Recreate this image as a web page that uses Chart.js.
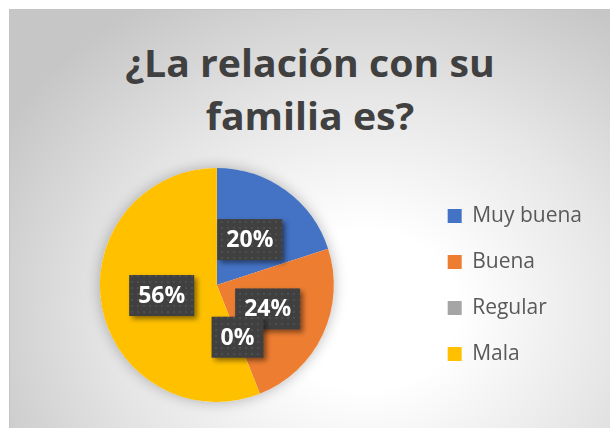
<!DOCTYPE html>
<html>
<head>
<meta charset="utf-8">
<script src="https://cdn.jsdelivr.net/npm/chart.js@4/dist/chart.umd.min.js"></script>
<style>
  html, body { margin: 0; padding: 0; background: #ffffff; }
  body { width: 610px; height: 428px; position: relative; overflow: hidden; }
  .box {
    position: absolute; left: 9px; top: 9px; width: 601px; height: 419px;
    border-left: 1px solid #c4c4c4; border-top: 1px solid #c4c4c4;
    background: radial-gradient(ellipse 420px 360px at 355px 300px, #ffffff 0%, #ffffff 22%, #e6e6e6 60%, #c6c6c6 100%);
  }
  .title {
    position: absolute; left: 10px; top: 36px; width: 600px; text-align: center;
    font-family: 'Open Sans', sans-serif; font-weight: 700; font-size: 37px;
    line-height: 53px; color: #404040; transform: scaleX(1.06);
  }
  canvas { position: absolute; left: 9px; top: 9px; }
</style>
</head>
<body>
<div class="box"></div>
<div class="title">¿La relación con su<br>familia es?</div>
<canvas id="chartFamilia" width="601" height="419"></canvas>
<script>
// ── Datos ────────────────────────────────────────────────
const categorias = ['Muy buena', 'Buena', 'Regular', 'Mala'];
const porcentajes = [20, 24, 0, 56];
const colores = ['#4472C4', '#ED7D31', '#A5A5A5', '#FFC000'];

// patrón oscuro con puntos para las etiquetas
function makePattern(ctx) {
  const p = document.createElement('canvas');
  p.width = 6; p.height = 6;
  const c = p.getContext('2d');
  c.fillStyle = '#404040';
  c.fillRect(0, 0, 6, 6);
  c.fillStyle = '#4e4e4e';
  c.fillRect(2, 2, 2, 2);
  return ctx.createPattern(p, 'repeat');
}

// sombra suave bajo la tarta
const pieShadow = {
  id: 'pieShadow',
  beforeDatasetsDraw(chart) {
    const arc = chart.getDatasetMeta(0).data[0];
    if (!arc) return;
    const ctx = chart.ctx;
    ctx.save();
    ctx.shadowColor = 'rgba(0, 0, 0, 0.28)';
    ctx.shadowBlur = 14;
    ctx.fillStyle = '#ffffff';
    ctx.beginPath();
    ctx.arc(arc.x, arc.y, arc.outerRadius, 0, Math.PI * 2);
    ctx.fill();
    ctx.restore();
  }
};

// etiquetas de porcentaje en cajas oscuras
const boxLabels = {
  id: 'boxLabels',
  afterDatasetsDraw(chart) {
    const ctx = chart.ctx;
    const pattern = makePattern(ctx);
    const arcs = chart.getDatasetMeta(0).data;
    ctx.save();
    ctx.font = "700 23px 'Open Sans', sans-serif";
    ctx.textAlign = 'center';
    ctx.textBaseline = 'middle';
    arcs.forEach((arc, i) => {
      const mid = (arc.startAngle + arc.endAngle) / 2;
      const r = arc.outerRadius * 0.48;
      const x = arc.x + Math.cos(mid) * r;
      const y = arc.y + Math.sin(mid) * r;
      const text = porcentajes[i] + '%';
      const w = ctx.measureText(text).width + 18;
      const h = 41;
      ctx.save();
      ctx.shadowColor = 'rgba(0, 0, 0, 0.45)';
      ctx.shadowBlur = 5;
      ctx.shadowOffsetX = 3;
      ctx.shadowOffsetY = 3;
      ctx.fillStyle = pattern;
      ctx.fillRect(x - w / 2, y - h / 2, w, h);
      ctx.restore();
      ctx.fillStyle = '#ffffff';
      ctx.fillText(text, x, y + 1);
    });
    ctx.restore();
  }
};

new Chart(document.getElementById('chartFamilia'), {
  type: 'pie',
  data: {
    labels: categorias,
    datasets: [{
      data: porcentajes,
      backgroundColor: colores,
      borderWidth: 0
    }]
  },
  options: {
    responsive: false,
    animation: false,
    layout: { padding: { top: 159, bottom: 26, left: 2, right: 18 } },
    plugins: {
      title: { display: false },
      tooltip: { enabled: false },
      legend: {
        position: 'right',
        labels: {
          boxWidth: 14,
          boxHeight: 14,
          padding: 25,
          color: '#595959',
          font: { family: "'Open Sans', sans-serif", size: 21 }
        }
      }
    }
  },
  plugins: [pieShadow, boxLabels]
});
</script>
</body>
</html>
